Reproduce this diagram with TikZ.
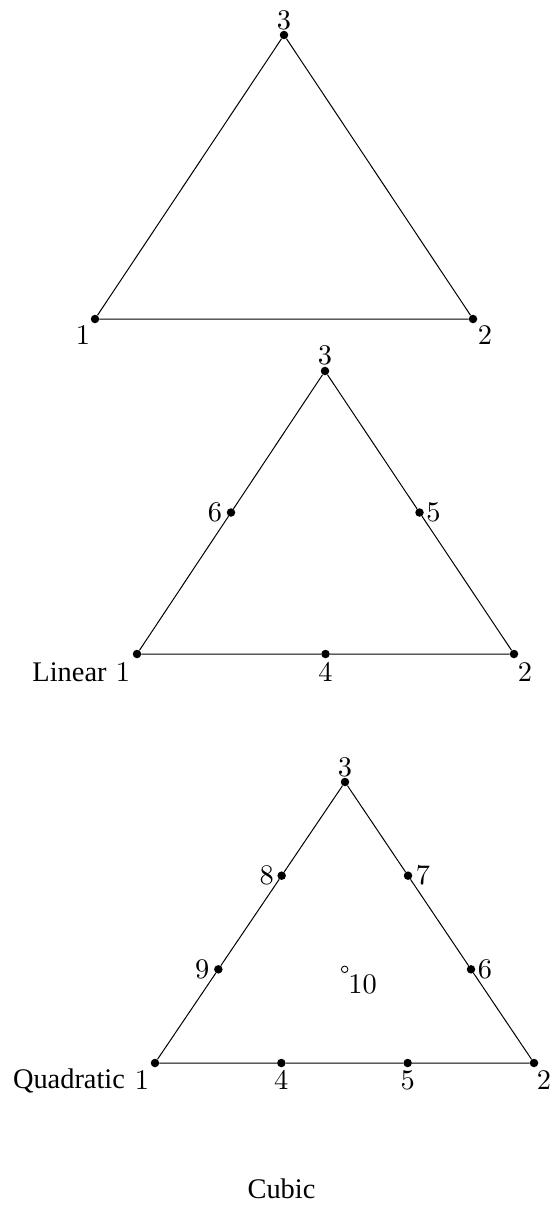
\documentclass[tikz,border=0pt]{standalone}
\usepackage{fontspec}
\newfontfamily\capfont{Liberation Serif}
\newfontfamily\numfont{lmroman10-regular}[Extension=.otf]
\usetikzlibrary{calc}
\tikzset{
  dot/.style={circle, fill=black, inner sep=0pt, minimum size=8.5pt},
  hollow/.style={circle, draw=black, line width=0.9pt, inner sep=0pt, minimum size=6.5pt},
  num/.style={inner sep=0pt, font=\numfont\fontsize{28.4}{34}\selectfont},
  word/.style={inner sep=0pt, anchor=base, font=\capfont\fontsize{28.4}{34}\selectfont},
  tri/.style={line width=1pt}
}
\begin{document}
\begin{tikzpicture}[x=1pt, y=-1pt]
\useasboundingbox (0,0) rectangle (555,1207);
% ---------- triangle 1 ----------
\node[dot] (a1) at (95,319) {};
\node[dot] (a2) at (473,319) {};
\node[dot] (a3) at (284,35) {};
\draw[tri] (a1) -- (a2) -- (a3) -- (a1);
\node[num] (la1) at ([shift={(-12,16)}]a1) {1};
\node[num] (la2) at ([shift={(12,16)}]a2) {2};
\node[num] (la3) at ([shift={(0,-15)}]a3) {3};
% ---------- triangle 2 ----------
\node[dot] (b1) at (137,654) {};
\node[dot] (b2) at (514,654) {};
\node[dot] (b3) at (325,371) {};
\node[dot] (b4) at ($(b1)!0.5!(b2)$) {};
\node[dot] (b5) at ($(b2)!0.5!(b3)$) {};
\node[dot] (b6) at ($(b3)!0.5!(b1)$) {};
\draw[tri] (b1) -- (b4) -- (b2) -- (b5) -- (b3) -- (b6) -- (b1);
\node[num] (lb1) at ([shift={(-14,18)}]b1) {1};
\node[num] (lb2) at ([shift={(11,18)}]b2) {2};
\node[num] (lb3) at ([shift={(0,-16)}]b3) {3};
\node[num] (lb4) at ([shift={(0,18)}]b4) {4};
\node[num] (lb5) at ([shift={(14,0)}]b5) {5};
\node[num] (lb6) at ([shift={(-16,0)}]b6) {6};
\node[word] (linear) at (69.5,681) {Linear};
% ---------- triangle 3 ----------
\node[dot] (c1) at (155,1063) {};
\node[dot] (c2) at (534,1063) {};
\node[dot] (c3) at (345,782) {};
\node[dot] (c4) at ($(c1)!1/3!(c2)$) {};
\node[dot] (c5) at ($(c1)!2/3!(c2)$) {};
\node[dot] (c6) at ($(c2)!1/3!(c3)$) {};
\node[dot] (c7) at ($(c2)!2/3!(c3)$) {};
\node[dot] (c8) at ($(c3)!1/3!(c1)$) {};
\node[dot] (c9) at ($(c3)!2/3!(c1)$) {};
\node[hollow] (c10) at ($1/3*(c1)+1/3*(c2)+1/3*(c3)$) {};
\draw[tri] (c1) -- (c4) -- (c5) -- (c2) -- (c6) -- (c7) -- (c3) -- (c8) -- (c9) -- (c1);
\node[num] (lc1) at ([shift={(-13,17)}]c1) {1};
\node[num] (lc2) at ([shift={(10,17)}]c2) {2};
\node[num] (lc3) at ([shift={(0,-15)}]c3) {3};
\node[num] (lc4) at ([shift={(0,17)}]c4) {4};
\node[num] (lc5) at ([shift={(0,17)}]c5) {5};
\node[num] (lc6) at ([shift={(14,0)}]c6) {6};
\node[num] (lc7) at ([shift={(15,0)}]c7) {7};
\node[num] (lc8) at ([shift={(-15,0)}]c8) {8};
\node[num] (lc9) at ([shift={(-16,0)}]c9) {9};
\node[num] (lc10) at ([shift={(18,15)}]c10) {10};
\node[word] (quadratic) at (69,1088) {Quadratic};
\node[word] (cubic) at (281.5,1198) {Cubic};
\end{tikzpicture}
\end{document}
